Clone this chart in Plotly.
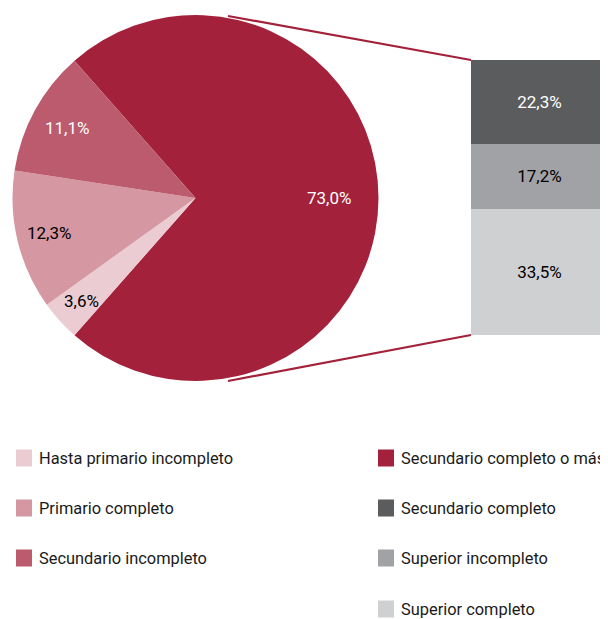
import math
import plotly.graph_objects as go

# ---- data ----
pie_labels = ["Secundario completo o más", "Hasta primario incompleto",
              "Primario completo", "Secundario incompleto"]
pie_values = [73.0, 3.6, 12.3, 11.1]
pie_colors = ["#A3213A", "#EBCCD2", "#D597A1", "#BB5B6D"]
pie_text_colors = ["white", "black", "black", "white"]
pie_label_radius = [0.73, 0.84, 0.82, 0.80]

bar_labels = ["Superior completo", "Superior incompleto", "Secundario completo"]
bar_values = [33.5, 17.2, 22.3]
bar_colors = ["#CFD0D2", "#A1A2A5", "#5B5C5E"]
bar_text_colors = ["black", "black", "white"]

legend_left = ["Hasta primario incompleto", "Primario completo", "Secundario incompleto"]
legend_left_colors = ["#EBCCD2", "#D597A1", "#BB5B6D"]
legend_right = ["Secundario completo o más", "Secundario completo",
                "Superior incompleto", "Superior completo"]
legend_right_colors = ["#A3213A", "#5B5C5E", "#A1A2A5", "#CFD0D2"]

# page has an 8px body margin: the figure starts at (8, 8)
OFF = 8
W, H = 608 - OFF, 619 - OFF
FONT = "Roboto, 'Open Sans', sans-serif"


def fmt(v):
    return f"{v:.1f}".replace(".", ",") + "%"


def px_x(x):
    return (x - OFF) / W


def px_y(y):
    return 1 - (y - OFF) / H


fig = go.Figure()

# pie geometry (page pixels)
pie_left, pie_right, pie_top, pie_bot = 12, 379, 15, 381
cx, cy = (pie_left + pie_right) / 2, (pie_top + pie_bot) / 2
rad = (pie_right - pie_left) / 2

total = sum(pie_values)
big_share = pie_values[0] / total
rotation = 90 - big_share * 180
fig.add_trace(go.Pie(
    labels=pie_labels, values=pie_values, sort=False, direction="clockwise",
    rotation=rotation,
    marker=dict(colors=pie_colors, line=dict(width=0)),
    textinfo="none",
    domain=dict(x=[px_x(pie_left), px_x(pie_right)], y=[px_y(pie_bot), px_y(pie_top)]),
    showlegend=False, hoverinfo="label+percent",
))

annotations = []
# pie labels placed along each slice's mid-angle (clockwise from 12 o'clock)
start = rotation
for v, tc, rf in zip(pie_values, pie_text_colors, pie_label_radius):
    span = v / total * 360
    mid = math.radians(start + span / 2)
    lx = cx + rf * rad * math.sin(mid)
    ly = cy - rf * rad * math.cos(mid)
    annotations.append(dict(xref="paper", yref="paper", x=px_x(lx), y=px_y(ly),
                            text=fmt(v), showarrow=False, xanchor="center", yanchor="middle",
                            font=dict(family=FONT, size=17, color=tc)))
    start += span

# stacked bar
for lab, v, c, tc in zip(bar_labels, bar_values, bar_colors, bar_text_colors):
    fig.add_trace(go.Bar(
        x=[0], y=[v], name=lab, marker=dict(color=c, line=dict(width=0)),
        width=1, text=[fmt(v)], textposition="inside", insidetextanchor="middle",
        textfont=dict(family=FONT, size=17, color=tc), textangle=0,
        showlegend=False,
    ))

bar_total = sum(bar_values)
bar_x0, bar_top, bar_bot = 471, 60, 335
fig.update_layout(
    barmode="stack",
    xaxis=dict(domain=[px_x(bar_x0), 1], range=[-0.5, 0.5], visible=False, fixedrange=True),
    yaxis=dict(domain=[px_y(bar_bot), px_y(bar_top)], range=[0, bar_total], visible=False, fixedrange=True),
    uniformtext=dict(minsize=17, mode="show"),
)

# connector lines
shapes = [
    dict(type="line", xref="paper", yref="paper",
         x0=px_x(228), y0=px_y(16), x1=px_x(bar_x0), y1=px_y(bar_top),
         line=dict(color="#A3213A", width=2.2)),
    dict(type="line", xref="paper", yref="paper",
         x0=px_x(228), y0=px_y(381), x1=px_x(bar_x0), y1=px_y(bar_bot),
         line=dict(color="#A3213A", width=2.2)),
]

row_y = [458, 508, 558, 609]
for col_x, names, cols in [(16, legend_left, legend_left_colors),
                           (378, legend_right, legend_right_colors)]:
    for i, (n, c) in enumerate(zip(names, cols)):
        ry = row_y[i]
        shapes.append(dict(type="rect", xref="paper", yref="paper",
                           x0=px_x(col_x), x1=px_x(col_x + 16),
                           y0=px_y(ry - 8.5), y1=px_y(ry + 8.5),
                           fillcolor=c, line=dict(width=0)))
        annotations.append(dict(xref="paper", yref="paper", x=px_x(col_x + 21), y=px_y(ry),
                                text=n, showarrow=False, xanchor="left", yanchor="middle",
                                font=dict(family=FONT, size=16.4, color="#1a1a1a")))

fig.update_layout(
    width=W, height=H, margin=dict(l=0, r=0, t=0, b=0),
    paper_bgcolor="white", plot_bgcolor="white",
    shapes=shapes, annotations=annotations,
    font=dict(family=FONT),
)

fig.write_html("out.html")
